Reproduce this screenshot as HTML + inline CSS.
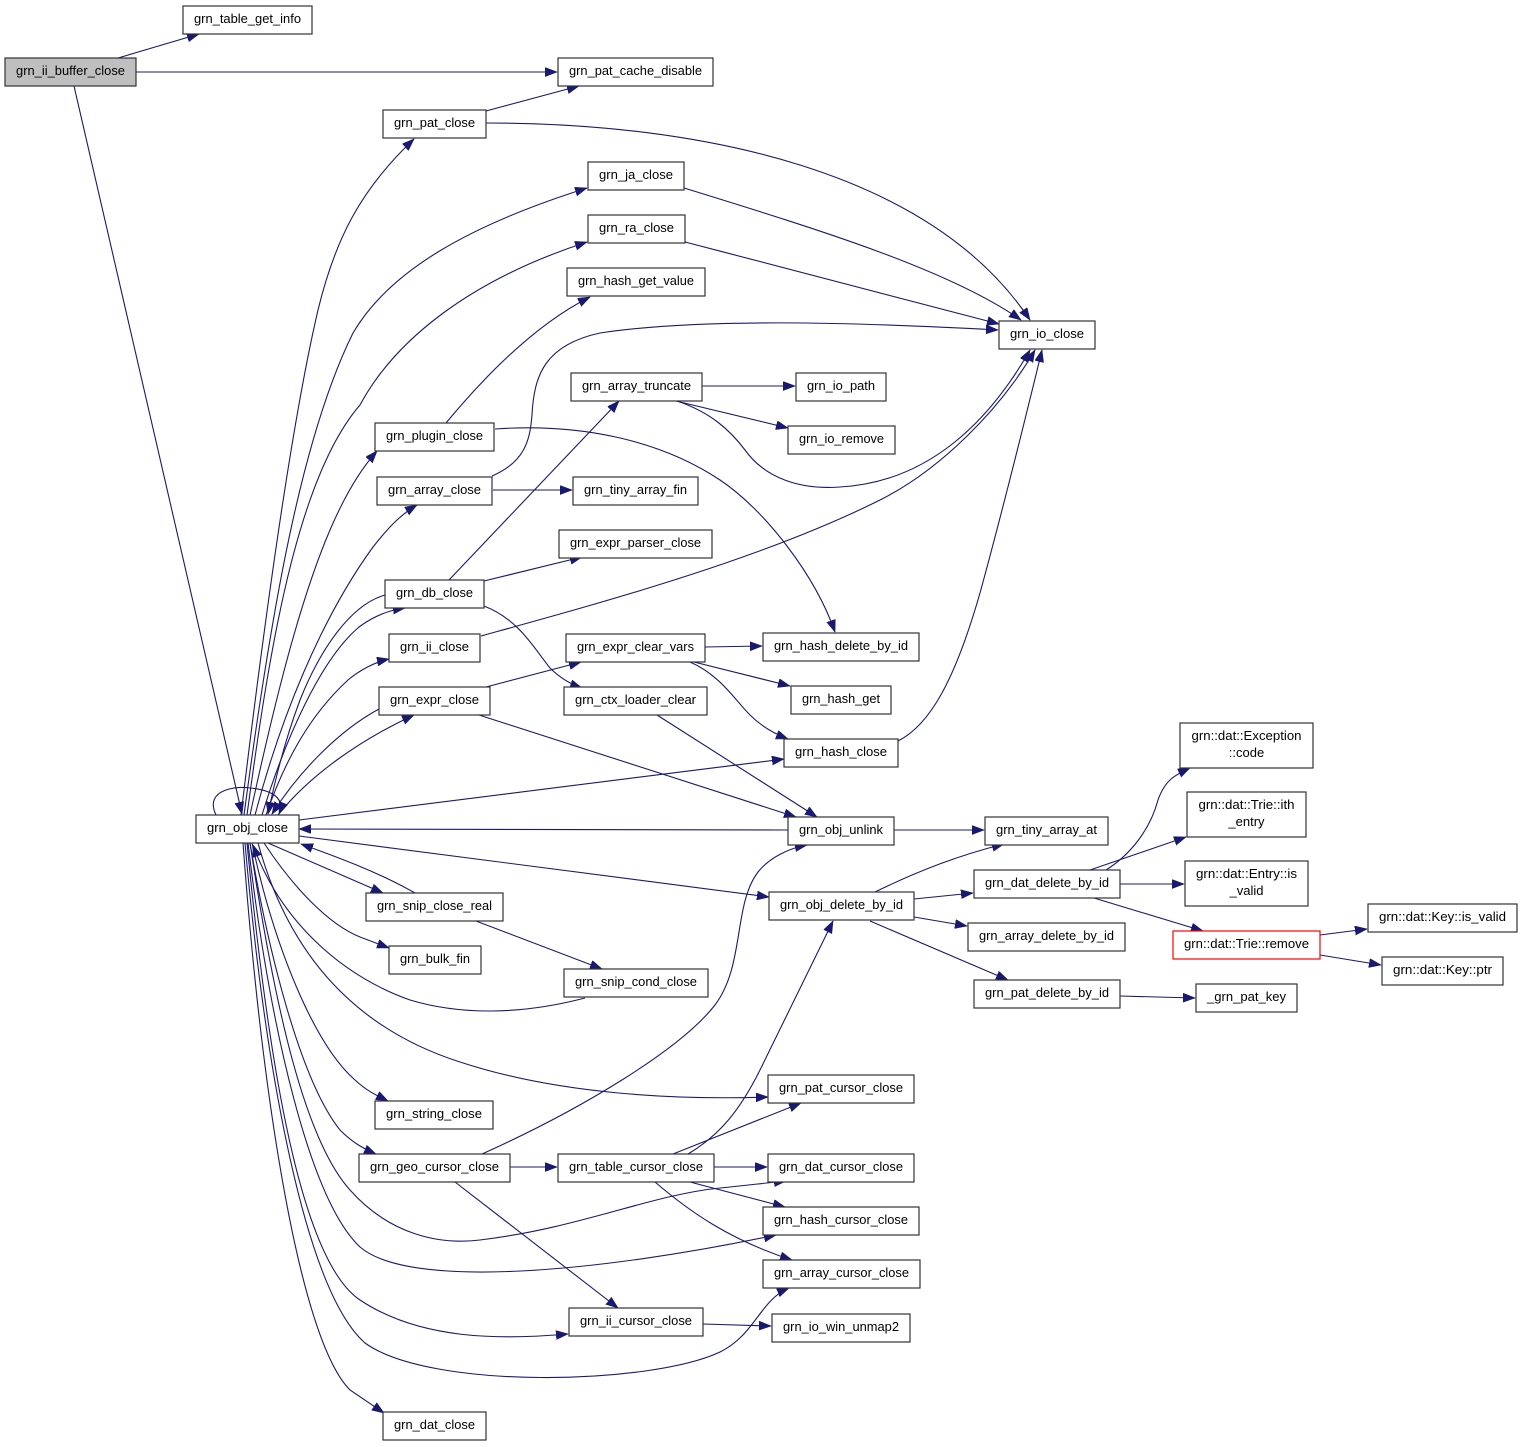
<!DOCTYPE html>
<html><head><meta charset="utf-8"><style>
html,body{margin:0;padding:0;background:#fff;}
svg{display:block;}
text{font-family:"Liberation Sans",Arial,sans-serif;font-size:13px;fill:#000;}
.e{fill:none;stroke:#191970;stroke-width:1.1;marker-end:url(#a);}
.n{fill:#fff;stroke:#333;stroke-width:1.2;}
</style></head><body>
<svg width="1523" height="1447" viewBox="0 0 1523 1447" xmlns="http://www.w3.org/2000/svg">
<defs><marker id="a" markerWidth="13" markerHeight="10" refX="12" refY="4.5" orient="auto" markerUnits="userSpaceOnUse"><path d="M0,0 L12,4.5 L0,9 z" fill="#191970" stroke="#191970" stroke-width="0.6"/></marker></defs>

<!-- edges -->
<path class="e" d="M118,58 L199,34"/>
<path class="e" d="M136,72 L557,72"/>
<path class="e" d="M74,86 L242,814"/>
<path class="e" d="M486,111 L579,86"/>
<path class="e" d="M486,123 C700,123 930,170 1030,320"/>
<path class="e" d="M684,188 C820,230 950,270 1021,320"/>
<path class="e" d="M685,242 C800,272 920,303 999,324"/>
<path class="e" d="M241,815 C262,640 290,430 318,310 C335,240 360,190 414,139"/>
<path class="e" d="M244,815 C270,620 300,440 353,333 C390,270 470,225 587,188"/>
<path class="e" d="M247,815 C268,660 295,480 360,405 C395,340 470,280 587,242"/>
<path class="e" d="M250,815 C275,700 300,600 330,530 C345,495 360,470 377,451"/>
<path class="e" d="M446,423 C490,370 540,322 590,297"/>
<path class="e" d="M255,815 C280,720 320,620 373,547 C388,528 400,515 417,505"/>
<path class="e" d="M262,815 C285,740 320,660 359,627 C375,615 390,610 405,608"/>
<path class="e" d="M385,595 C350,605 320,650 300,700 C285,740 275,780 268,814"/>
<path class="e" d="M266,815 C285,760 310,715 348,680 C360,670 375,662 389,659"/>
<path class="e" d="M278,815 C310,775 360,740 414,715"/>
<path class="e" d="M379,709 C340,730 300,770 272,814"/>
<path class="e" d="M216,815 C203,788 240,786 250,788 C270,790 286,797 279,814"/>
<path class="e" d="M299,820 L784,759"/>
<path class="e" d="M788,830 L299,829"/>
<path class="e" d="M299,836 L769,897"/>
<path class="e" d="M268,843 L383,893"/>
<path class="e" d="M415,893 C380,873 340,858 301,844"/>
<path class="e" d="M264,843 C295,890 330,925 360,937 L389,948"/>
<path class="e" d="M476,921 L602,969"/>
<path class="e" d="M585,998 C520,1015 460,1015 410,1000 C340,975 280,920 253,845"/>
<path class="e" d="M258,843 C290,960 360,1030 460,1062 C560,1095 680,1100 768,1097"/>
<path class="e" d="M252,843 C275,950 315,1045 355,1080 C368,1092 378,1096 388,1101"/>
<path class="e" d="M250,843 C268,950 300,1080 340,1130 C352,1142 362,1148 376,1154"/>
<path class="e" d="M250,843 C275,1010 305,1140 350,1190 C390,1235 440,1245 480,1240 C580,1228 650,1195 720,1188 C750,1185 765,1183 786,1181"/>
<path class="e" d="M248,843 C270,1030 310,1200 360,1247 C410,1290 600,1272 776,1235"/>
<path class="e" d="M245,843 C265,1070 305,1290 365,1343 C430,1390 650,1385 720,1352 C755,1335 760,1300 789,1288"/>
<path class="e" d="M247,843 C268,1060 300,1260 360,1300 C420,1340 500,1340 568,1334"/>
<path class="e" d="M243,843 C262,1100 300,1340 350,1390 L384,1413"/>
<path class="e" d="M482,1154 C580,1110 680,1050 715,1005 C745,965 733,905 758,872 C770,857 790,848 807,845"/>
<path class="e" d="M510,1167 L557,1167"/>
<path class="e" d="M455,1182 L618,1308"/>
<path class="e" d="M673,1154 L801,1103"/>
<path class="e" d="M688,1154 C720,1135 740,1110 760,1070 L833,921"/>
<path class="e" d="M714,1167 L767,1167"/>
<path class="e" d="M690,1182 L785,1207"/>
<path class="e" d="M655,1182 C690,1212 730,1240 792,1260"/>
<path class="e" d="M703,1324 L771,1326"/>
<path class="e" d="M449,580 L619,401"/>
<path class="e" d="M484,581 L582,557"/>
<path class="e" d="M484,606 C520,620 535,650 550,668 C560,678 570,684 582,688"/>
<path class="e" d="M481,636 C600,603 760,560 880,500 C940,470 1000,410 1035,350"/>
<path class="e" d="M677,401 C710,412 730,430 745,450 C765,478 800,490 840,487 C930,482 990,420 1030,350"/>
<path class="e" d="M898,741 C930,725 955,680 980,593 C1000,520 1025,420 1042,350"/>
<path class="e" d="M702,386 L795,386"/>
<path class="e" d="M676,401 L788,428"/>
<path class="e" d="M493,490 L572,490"/>
<path class="e" d="M492,476 C525,462 530,440 532,415 C534,375 545,345 600,333 C700,318 850,322 998,330"/>
<path class="e" d="M495,429 C580,423 660,440 720,480 C765,510 815,575 835,632"/>
<path class="e" d="M486,687 L581,662"/>
<path class="e" d="M479,715 L796,817"/>
<path class="e" d="M657,715 L817,817"/>
<path class="e" d="M705,647 L762,646"/>
<path class="e" d="M690,661 L790,686"/>
<path class="e" d="M690,662 C720,675 735,700 750,715 C762,727 775,734 788,739"/>
<path class="e" d="M894,830 L984,830"/>
<path class="e" d="M875,892 C920,870 960,855 1004,844"/>
<path class="e" d="M914,899 L973,893"/>
<path class="e" d="M914,917 L967,926"/>
<path class="e" d="M870,921 L1008,980"/>
<path class="e" d="M1106,870 C1130,855 1150,830 1158,800 C1165,780 1175,775 1190,768"/>
<path class="e" d="M1090,870 L1186,837"/>
<path class="e" d="M1120,884 L1184,884"/>
<path class="e" d="M1094,898 L1203,931"/>
<path class="e" d="M1320,935 L1367,929"/>
<path class="e" d="M1320,955 L1381,965"/>
<path class="e" d="M1120,996 L1195,998"/>

<!-- nodes -->
<rect x="5" y="58" width="131" height="28" fill="#bfbfbf" stroke="#333" stroke-width="1.2"/>
<text x="70.5" y="75" text-anchor="middle" textLength="109" lengthAdjust="spacingAndGlyphs">grn_ii_buffer_close</text>
<rect class="n" x="183" y="6" width="129" height="28"/><text x="247.5" y="23" text-anchor="middle" textLength="107" lengthAdjust="spacingAndGlyphs">grn_table_get_info</text>
<rect class="n" x="558" y="58" width="155" height="28"/><text x="635.5" y="75" text-anchor="middle" textLength="133" lengthAdjust="spacingAndGlyphs">grn_pat_cache_disable</text>
<rect class="n" x="383" y="110" width="103" height="28"/><text x="434.5" y="127" text-anchor="middle" textLength="81" lengthAdjust="spacingAndGlyphs">grn_pat_close</text>
<rect class="n" x="588" y="162" width="96" height="28"/><text x="636" y="179" text-anchor="middle" textLength="74" lengthAdjust="spacingAndGlyphs">grn_ja_close</text>
<rect class="n" x="588" y="215" width="97" height="28"/><text x="636.5" y="232" text-anchor="middle" textLength="75" lengthAdjust="spacingAndGlyphs">grn_ra_close</text>
<rect class="n" x="567" y="268" width="138" height="28"/><text x="636" y="285" text-anchor="middle" textLength="116" lengthAdjust="spacingAndGlyphs">grn_hash_get_value</text>
<rect class="n" x="999" y="321" width="96" height="28"/><text x="1047" y="338" text-anchor="middle" textLength="74" lengthAdjust="spacingAndGlyphs">grn_io_close</text>
<rect class="n" x="571" y="373" width="131" height="28"/><text x="636.5" y="390" text-anchor="middle" textLength="109" lengthAdjust="spacingAndGlyphs">grn_array_truncate</text>
<rect class="n" x="796" y="373" width="90" height="28"/><text x="841" y="390" text-anchor="middle" textLength="68" lengthAdjust="spacingAndGlyphs">grn_io_path</text>
<rect class="n" x="788" y="426" width="107" height="28"/><text x="841.5" y="443" text-anchor="middle" textLength="85" lengthAdjust="spacingAndGlyphs">grn_io_remove</text>
<rect class="n" x="375" y="423" width="119" height="28"/><text x="434.5" y="440" text-anchor="middle" textLength="97" lengthAdjust="spacingAndGlyphs">grn_plugin_close</text>
<rect class="n" x="377" y="477" width="115" height="28"/><text x="434.5" y="494" text-anchor="middle" textLength="93" lengthAdjust="spacingAndGlyphs">grn_array_close</text>
<rect class="n" x="573" y="477" width="125" height="28"/><text x="635.5" y="494" text-anchor="middle" textLength="103" lengthAdjust="spacingAndGlyphs">grn_tiny_array_fin</text>
<rect class="n" x="559" y="530" width="153" height="28"/><text x="635.5" y="547" text-anchor="middle" textLength="131" lengthAdjust="spacingAndGlyphs">grn_expr_parser_close</text>
<rect class="n" x="385" y="580" width="99" height="28"/><text x="434.5" y="597" text-anchor="middle" textLength="77" lengthAdjust="spacingAndGlyphs">grn_db_close</text>
<rect class="n" x="389" y="634" width="91" height="28"/><text x="434.5" y="651" text-anchor="middle" textLength="69" lengthAdjust="spacingAndGlyphs">grn_ii_close</text>
<rect class="n" x="566" y="634" width="139" height="28"/><text x="635.5" y="651" text-anchor="middle" textLength="117" lengthAdjust="spacingAndGlyphs">grn_expr_clear_vars</text>
<rect class="n" x="763" y="633" width="156" height="28"/><text x="841" y="650" text-anchor="middle" textLength="134" lengthAdjust="spacingAndGlyphs">grn_hash_delete_by_id</text>
<rect class="n" x="379" y="687" width="111" height="28"/><text x="434.5" y="704" text-anchor="middle" textLength="89" lengthAdjust="spacingAndGlyphs">grn_expr_close</text>
<rect class="n" x="564" y="687" width="143" height="28"/><text x="635.5" y="704" text-anchor="middle" textLength="121" lengthAdjust="spacingAndGlyphs">grn_ctx_loader_clear</text>
<rect class="n" x="791" y="686" width="100" height="28"/><text x="841" y="703" text-anchor="middle" textLength="78" lengthAdjust="spacingAndGlyphs">grn_hash_get</text>
<rect class="n" x="784" y="739" width="114" height="28"/><text x="841" y="756" text-anchor="middle" textLength="92" lengthAdjust="spacingAndGlyphs">grn_hash_close</text>
<rect class="n" x="1180" y="723" width="133" height="45"/><text x="1246.5" y="740" text-anchor="middle" textLength="110" lengthAdjust="spacingAndGlyphs">grn::dat::Exception</text><text x="1246.5" y="757" text-anchor="middle">::code</text>
<rect class="n" x="196" y="815" width="103" height="28"/><text x="247.5" y="832" text-anchor="middle" textLength="81" lengthAdjust="spacingAndGlyphs">grn_obj_close</text>
<rect class="n" x="788" y="817" width="106" height="28"/><text x="841" y="834" text-anchor="middle" textLength="84" lengthAdjust="spacingAndGlyphs">grn_obj_unlink</text>
<rect class="n" x="985" y="817" width="123" height="28"/><text x="1046.5" y="834" text-anchor="middle" textLength="101" lengthAdjust="spacingAndGlyphs">grn_tiny_array_at</text>
<rect class="n" x="1187" y="792" width="119" height="45"/><text x="1246.5" y="809" text-anchor="middle" textLength="96" lengthAdjust="spacingAndGlyphs">grn::dat::Trie::ith</text><text x="1246.5" y="826" text-anchor="middle">_entry</text>
<rect class="n" x="1185" y="861" width="123" height="45"/><text x="1246.5" y="878" text-anchor="middle" textLength="101" lengthAdjust="spacingAndGlyphs">grn::dat::Entry::is</text><text x="1246.5" y="895" text-anchor="middle">_valid</text>
<rect class="n" x="974" y="870" width="146" height="28"/><text x="1047" y="887" text-anchor="middle" textLength="124" lengthAdjust="spacingAndGlyphs">grn_dat_delete_by_id</text>
<rect class="n" x="769" y="892" width="145" height="28"/><text x="841.5" y="909" text-anchor="middle" textLength="123" lengthAdjust="spacingAndGlyphs">grn_obj_delete_by_id</text>
<rect class="n" x="366" y="893" width="137" height="28"/><text x="434.5" y="910" text-anchor="middle" textLength="115" lengthAdjust="spacingAndGlyphs">grn_snip_close_real</text>
<rect class="n" x="968" y="923" width="157" height="28"/><text x="1046.5" y="940" text-anchor="middle" textLength="135" lengthAdjust="spacingAndGlyphs">grn_array_delete_by_id</text>
<rect x="1173" y="931" width="147" height="28" fill="#fff" stroke="#ff0000" stroke-width="1.2"/><text x="1246.5" y="948" text-anchor="middle" textLength="125" lengthAdjust="spacingAndGlyphs">grn::dat::Trie::remove</text>
<rect class="n" x="1368" y="904" width="149" height="28"/><text x="1442.5" y="921" text-anchor="middle" textLength="127" lengthAdjust="spacingAndGlyphs">grn::dat::Key::is_valid</text>
<rect class="n" x="1382" y="957" width="121" height="28"/><text x="1442.5" y="974" text-anchor="middle" textLength="99" lengthAdjust="spacingAndGlyphs">grn::dat::Key::ptr</text>
<rect class="n" x="389" y="946" width="92" height="28"/><text x="435" y="963" text-anchor="middle" textLength="70" lengthAdjust="spacingAndGlyphs">grn_bulk_fin</text>
<rect class="n" x="564" y="969" width="144" height="28"/><text x="636" y="986" text-anchor="middle" textLength="122" lengthAdjust="spacingAndGlyphs">grn_snip_cond_close</text>
<rect class="n" x="974" y="980" width="146" height="28"/><text x="1047" y="997" text-anchor="middle" textLength="124" lengthAdjust="spacingAndGlyphs">grn_pat_delete_by_id</text>
<rect class="n" x="1196" y="984" width="101" height="28"/><text x="1246.5" y="1001" text-anchor="middle" textLength="79" lengthAdjust="spacingAndGlyphs">_grn_pat_key</text>
<rect class="n" x="768" y="1075" width="146" height="28"/><text x="841" y="1092" text-anchor="middle" textLength="124" lengthAdjust="spacingAndGlyphs">grn_pat_cursor_close</text>
<rect class="n" x="375" y="1101" width="118" height="28"/><text x="434" y="1118" text-anchor="middle" textLength="96" lengthAdjust="spacingAndGlyphs">grn_string_close</text>
<rect class="n" x="359" y="1154" width="151" height="28"/><text x="434.5" y="1171" text-anchor="middle" textLength="129" lengthAdjust="spacingAndGlyphs">grn_geo_cursor_close</text>
<rect class="n" x="558" y="1154" width="156" height="28"/><text x="636" y="1171" text-anchor="middle" textLength="134" lengthAdjust="spacingAndGlyphs">grn_table_cursor_close</text>
<rect class="n" x="768" y="1154" width="146" height="28"/><text x="841" y="1171" text-anchor="middle" textLength="124" lengthAdjust="spacingAndGlyphs">grn_dat_cursor_close</text>
<rect class="n" x="763" y="1207" width="156" height="28"/><text x="841" y="1224" text-anchor="middle" textLength="134" lengthAdjust="spacingAndGlyphs">grn_hash_cursor_close</text>
<rect class="n" x="763" y="1260" width="157" height="28"/><text x="841.5" y="1277" text-anchor="middle" textLength="135" lengthAdjust="spacingAndGlyphs">grn_array_cursor_close</text>
<rect class="n" x="569" y="1308" width="134" height="28"/><text x="636" y="1325" text-anchor="middle" textLength="112" lengthAdjust="spacingAndGlyphs">grn_ii_cursor_close</text>
<rect class="n" x="772" y="1314" width="138" height="28"/><text x="841" y="1331" text-anchor="middle" textLength="116" lengthAdjust="spacingAndGlyphs">grn_io_win_unmap2</text>
<rect class="n" x="383" y="1412" width="103" height="28"/><text x="434.5" y="1429" text-anchor="middle" textLength="81" lengthAdjust="spacingAndGlyphs">grn_dat_close</text>
</svg>
</body></html>
